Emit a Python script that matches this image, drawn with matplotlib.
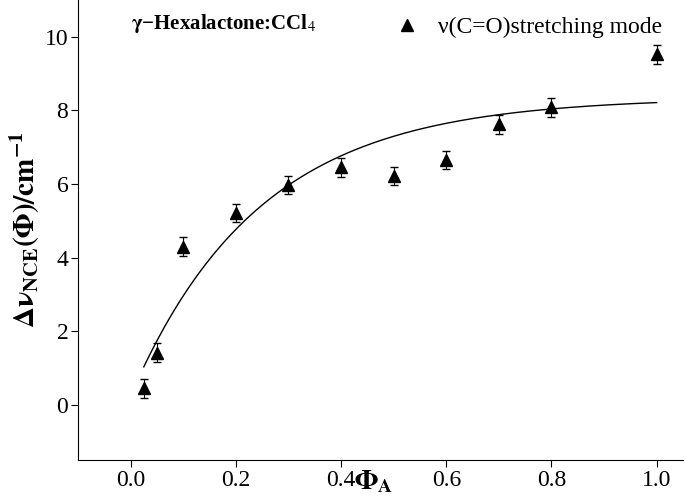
import numpy as np
import matplotlib.pyplot as plt
from matplotlib.lines import Line2D

plt.rcParams["font.family"] = "Liberation Serif"
plt.rcParams["mathtext.fontset"] = "stix"

phi = [0.025, 0.05, 0.1, 0.2, 0.3, 0.4, 0.5, 0.6, 0.7, 0.8, 1.0]
dnu = [0.45, 1.42, 4.3, 5.22, 5.98, 6.45, 6.22, 6.65, 7.62, 8.08, 9.52]
err = [0.25, 0.25, 0.25, 0.25, 0.25, 0.25, 0.25, 0.25, 0.25, 0.25, 0.25]

# exponential fit parameters: y = y_inf - amp*exp(-x/tau)
y_inf, amp, tau = 8.35, 8.1, 0.245

fig = plt.figure(figsize=(6.85, 4.98), dpi=100)
ax = fig.add_axes([0.114, 0.076, 0.883, 0.924])

xf = np.linspace(0.025, 1.0, 200)
ax.plot(xf, y_inf - amp * np.exp(-xf / tau), color="black", lw=1)
ax.errorbar(phi, dnu, yerr=err, fmt="^", color="black", ms=8,
            ecolor="black", elinewidth=0.8, capsize=3)

ax.set_xlim(-0.1, 1.05)
ax.set_ylim(-1.5, 11)
ax.set_xticks([0.0, 0.2, 0.4, 0.6, 0.8, 1.0])
ax.set_yticks([0, 2, 4, 6, 8, 10])
ax.tick_params(labelsize=17, direction="out", length=5, pad=2)
ax.spines["top"].set_visible(False)
ax.spines["right"].set_visible(False)

fig.text(0.545, 0.005, r"$\mathbf{\Phi_A}$", fontsize=20, ha="center", va="bottom")
ax.set_ylabel(r"$\mathbf{\Delta\nu_{NCE}(\Phi)/cm^{-1}}$", fontsize=21, labelpad=2)
ax.text(0.0, 10.2, r"$\mathbf{\gamma}$" + "−Hexalactone:CCl$_4$", fontsize=15,
        fontweight="bold")
handle = Line2D([], [], marker="^", color="black", ls="none", ms=9)
ax.legend([handle], ["ν(C=O)stretching mode"], loc="upper right", frameon=False,
          fontsize=17, handletextpad=0.3, bbox_to_anchor=(1.0, 1.01))

fig.savefig("out.png", dpi=100)
